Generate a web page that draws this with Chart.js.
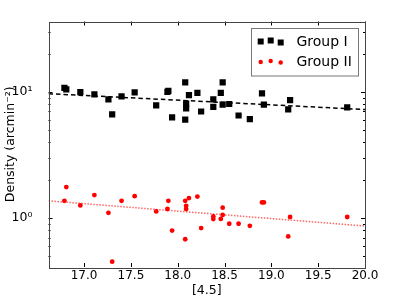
<!DOCTYPE html>
<html>
<head>
<meta charset="utf-8">
<script src="https://cdn.jsdelivr.net/npm/chart.js@4"></script>
<style>
  html, body { margin: 0; padding: 0; background: #fff; }
</style>
</head>
<body>
<canvas id="c" width="395" height="298"></canvas>
<script>
// [4.5] magnitude, shared by both groups
const mag = [16.79, 16.81, 16.96, 17.11, 17.26, 17.30, 17.40, 17.54, 17.77, 17.89,
             17.90, 17.94, 18.08, 18.08, 18.09, 18.09, 18.12, 18.21, 18.25, 18.38,
             18.38, 18.46, 18.48, 18.48, 18.55, 18.65, 18.77, 18.90, 18.92, 19.18,
             19.20, 19.81];
const groupI = [10.75, 10.45, 9.95, 9.54, 8.71, 6.63, 9.20, 9.89, 7.81, 9.98,
                10.18, 6.28, 11.87, 6.03, 7.37, 8.07, 9.42, 9.82, 6.98, 8.71,
                7.60, 9.82, 11.87, 7.90, 8.00, 6.49, 6.07, 9.71, 7.90, 7.26,
                8.60, 7.53];
const groupII = [1.37, 1.76, 1.26, 1.52, 1.10, 0.452, 1.37, 1.49, 1.13, 1.18,
                 1.37, 0.797, 1.37, 0.680, 1.25, 1.18, 1.44, 1.48, 0.834, 1.03,
                 0.982, 0.984, 1.21, 1.06, 0.902, 0.902, 0.869, 1.33, 1.33, 0.716,
                 1.02, 1.02];
// fit lines (end points)
const fitX = [16.62, 20.0];
const fitI = [9.66, 7.23];
const fitII = [1.37, 0.865];

const xTicks = [17.0, 17.5, 18.0, 18.5, 19.0, 19.5, 20.0];
const yTicks = [0.5, 0.6, 0.7, 0.8, 0.9, 1, 2, 3, 4, 5, 6, 7, 8, 9, 10, 20, 30];
const yMajor = [1, 10];
const yLabels = { 1: '10⁰', 10: '10¹' };

const pts = (xs, ys) => xs.map((x, i) => ({ x: x, y: ys[i] }));

Chart.defaults.font.family = "'DejaVu Sans', sans-serif";
Chart.defaults.color = '#000';

// frame, inward ticks and the boxed legend, matplotlib style
const axesPlugin = {
  id: 'axesPlugin',
  afterDraw(chart) {
    const ctx = chart.ctx;
    const { left, right, top, bottom } = chart.chartArea;
    const xs = chart.scales.x, ys = chart.scales.y;
    ctx.save();
    ctx.strokeStyle = '#000';
    ctx.lineWidth = 1;
    ctx.beginPath();
    xTicks.forEach(v => {
      const px = Math.round(xs.getPixelForValue(v)) + 0.5;
      ctx.moveTo(px, bottom); ctx.lineTo(px, bottom - 4);
      ctx.moveTo(px, top); ctx.lineTo(px, top + 4);
    });
    yTicks.forEach(v => {
      const py = Math.round(ys.getPixelForValue(v)) + 0.5;
      const len = yMajor.includes(v) ? 4 : 2;
      ctx.moveTo(left, py); ctx.lineTo(left + len, py);
      ctx.moveTo(right, py); ctx.lineTo(right - len, py);
    });
    ctx.stroke();
    ctx.strokeStyle = '#444';
    ctx.strokeRect(Math.round(left) + 0.5, Math.round(top) + 0.5,
                   Math.round(right - left) - 1, Math.round(bottom - top));

    // legend
    ctx.fillStyle = '#fff';
    ctx.fillRect(251.5, 28.5, 107, 47.5);
    ctx.strokeStyle = '#777';
    ctx.strokeRect(251.5, 28.5, 107, 47.5);
    ctx.fillStyle = '#000';
    [[260.7, 41.5], [270.7, 40.5], [280.7, 42.5]].forEach(p => {
      ctx.fillRect(p[0] - 3, p[1] - 3, 6, 6);
    });
    ctx.fillStyle = '#ff0000';
    [[260.7, 62], [270.7, 61], [280.7, 62.5]].forEach(p => {
      ctx.beginPath(); ctx.arc(p[0], p[1], 2.2, 0, Math.PI * 2); ctx.fill();
    });
    ctx.fillStyle = '#000';
    ctx.font = "14px 'DejaVu Sans'";
    ctx.textBaseline = 'middle';
    ctx.textAlign = 'left';
    ctx.fillText('Group I', 296.5, 42);
    ctx.fillText('Group II', 296.5, 62);
    ctx.restore();
  }
};

new Chart(document.getElementById('c'), {
  type: 'scatter',
  data: {
    datasets: [
      {
        label: 'Group I',
        data: pts(mag, groupI),
        pointStyle: 'rect',
        pointRadius: 4.4,
        backgroundColor: '#000',
        borderWidth: 0
      },
      {
        label: 'Group II',
        data: pts(mag, groupII),
        pointStyle: 'circle',
        pointRadius: 2.4,
        backgroundColor: '#ff0000',
        borderWidth: 0
      },
      {
        data: pts(fitX, fitI),
        showLine: true,
        pointRadius: 0,
        borderColor: '#000',
        borderWidth: 1.5,
        borderDash: [4.5, 3]
      },
      {
        data: pts(fitX, fitII),
        showLine: true,
        pointRadius: 0,
        borderColor: 'rgba(255,0,0,0.6)',
        borderWidth: 1.5,
        borderDash: [1.5, 1.5]
      }
    ]
  },
  options: {
    responsive: false,
    animation: false,
    devicePixelRatio: 1,
    layout: { padding: { top: 21.5, right: 30, left: 0, bottom: 0 } },
    plugins: { legend: { display: false }, tooltip: { enabled: false } },
    scales: {
      x: {
        type: 'linear',
        min: 16.62,
        max: 20.0,
        afterBuildTicks: s => { s.ticks = xTicks.map(v => ({ value: v })); },
        afterFit: s => { s.height = 31; },
        grid: { display: false },
        border: { display: false },
        ticks: {
          autoSkip: false,
          maxRotation: 0,
          padding: -6,
          font: { size: 12 },
          callback: v => Number(v).toFixed(1)
        },
        title: {
          display: true,
          text: '[4.5]',
          font: { size: 12.5 },
          padding: { top: 0, bottom: 0 }
        }
      },
      y: {
        type: 'logarithmic',
        min: 0.41,
        max: 36,
        afterBuildTicks: s => { s.ticks = yTicks.map(v => ({ value: v })); },
        afterFit: s => { s.width = 48.5; },
        grid: { display: false },
        border: { display: false },
        ticks: {
          autoSkip: false,
          padding: 8,
          font: { size: 12.5 },
          callback: v => yLabels[v] || ''
        },
        title: {
          display: true,
          text: 'Density (arcmin⁻²)',
          font: { size: 12.5 },
          padding: { top: 3, bottom: 0 }
        }
      }
    }
  },
  plugins: [axesPlugin]
});
</script>
</body>
</html>
